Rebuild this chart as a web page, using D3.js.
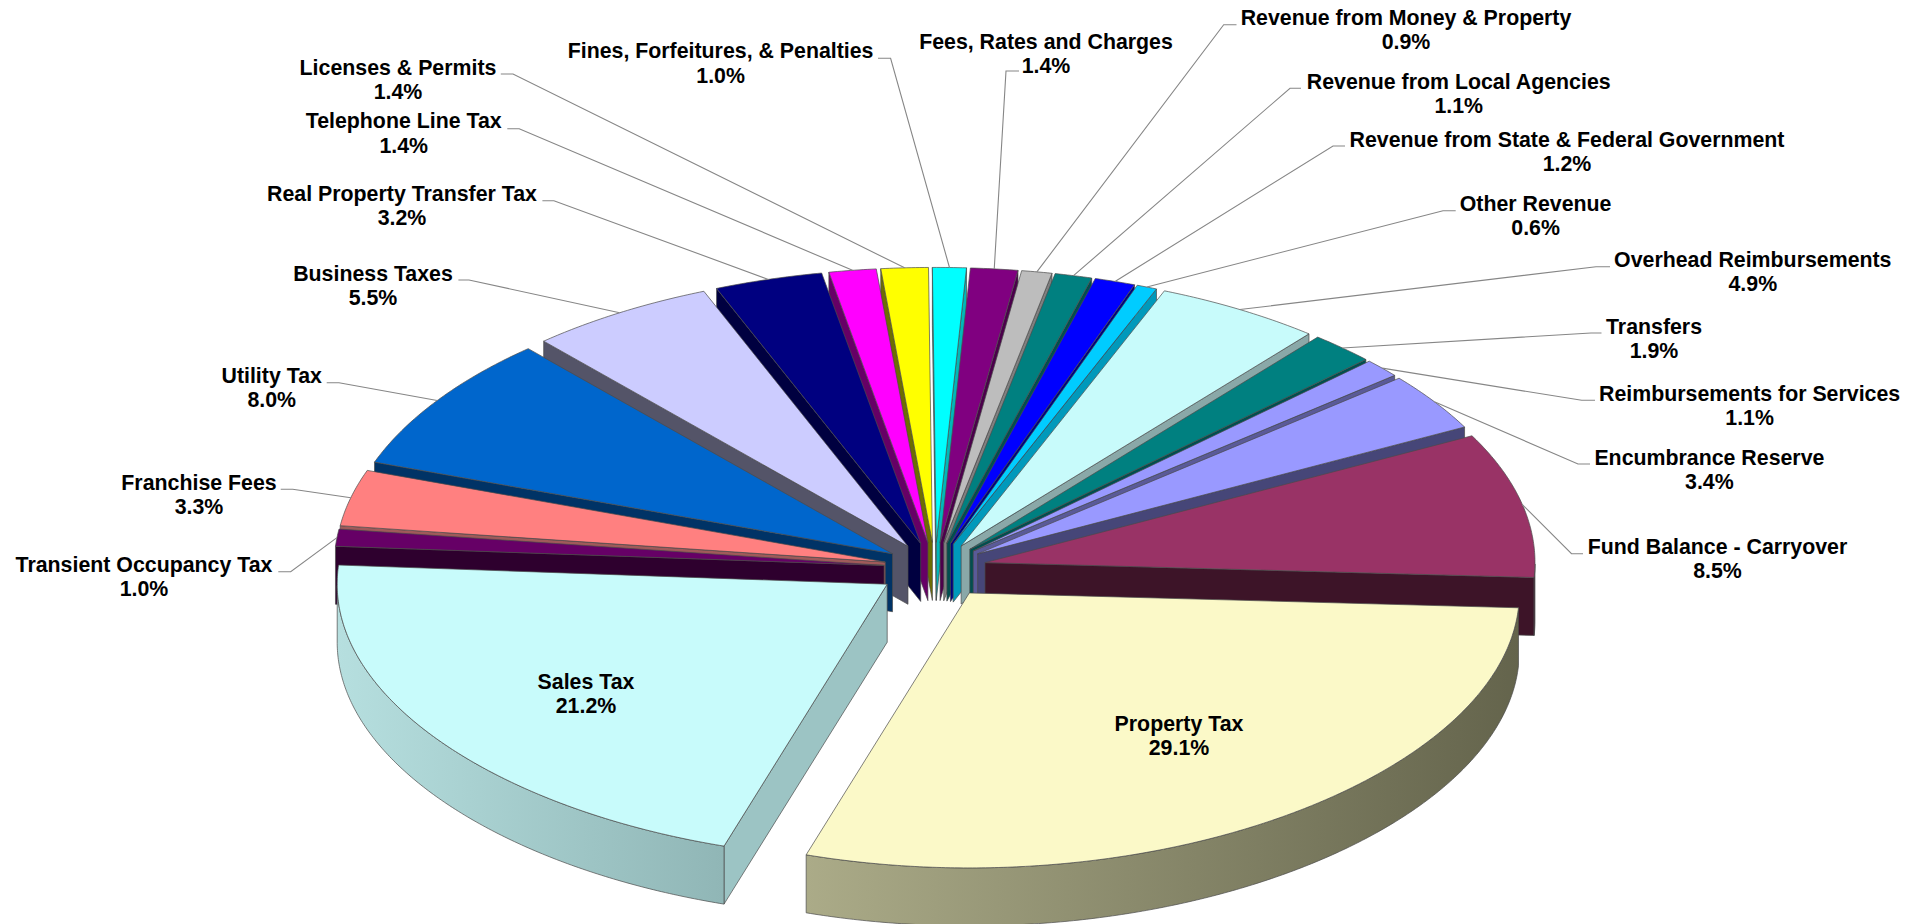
<!DOCTYPE html>
<html><head><meta charset="utf-8">
<script src="https://cdn.jsdelivr.net/npm/d3@7"></script>
<style>html,body{margin:0;padding:0;background:#fff;overflow:hidden}svg{display:block}
text{font-family:"Liberation Sans",Arial,sans-serif;font-weight:bold;font-size:21.33px;fill:#000}</style>
</head><body><svg id="c" width="1916" height="924"></svg>
<script>
const categories=["Property Tax","Sales Tax","Transient Occupancy Tax","Franchise Fees","Utility Tax","Business Taxes","Real Property Transfer Tax","Telephone Line Tax","Licenses & Permits","Fines, Forfeitures, & Penalties","Fees, Rates and Charges","Revenue from Money & Property","Revenue from Local Agencies","Revenue from State & Federal Government","Other Revenue","Overhead Reimbursements","Transfers","Reimbursements for Services","Encumbrance Reserve","Fund Balance - Carryover"];
const shares=[29.1,21.2,1.0,3.3,8.0,5.5,3.2,1.4,1.4,1.0,1.4,0.9,1.1,1.2,0.6,4.9,1.9,1.1,3.4,8.5];
const explode=[.11,.105,.093,.093,.093,.093,.093,.093,.093,.093,.093,.093,.093,.093,.093,.093,.093,.093,.093,.093];
const topColors=["#fbf9c8","#c8fbfb","#660066","#ff8080","#0066cc","#ccccff","#000080","#ff00ff","#ffff00","#00ffff","#800080","#bdbdbd","#008080","#0000ff","#00ccff","#c8fbfb","#008080","#9999ff","#9999ff","#993366"];
const wallColors=["#6a6a50","#9cc4c4","#2e002e","#a05a5a","#003366","#545468","#000040","#660066","#6e6e00","#00b8b8","#4c004c","#808080","#004f4f","#000080","#0099bb","#8aa8a8","#004f4f","#5a5a98","#464678","#3d1428"];
// label centre x, first-line baseline y
const labelX=[1179,586,144,199,271.7,373,402,403.7,398,720.6,1046,1406,1458.7,1567,1535.6,1752.8,1654,1749.6,1709.4,1717.5];
const labelY=[731,689,572,490,383,280.7,200.7,128.3,75,58.3,49,25,89,146.7,210.7,266.7,334,401,465,554];
// leader stub start x, elbow x, stub y
const stubX=[null,null,278.3,280.7,326.7,458.4,542.4,507.3,500.8,878,1019,1236.5,1301,1345,1455.7,1610,1601.5,1595,1590,1583];
const elbowX=[null,null,290.7,292.7,339,469,553.9,519.2,513,890.6,1006,1223.7,1290,1333,1443,1596,1591,1581.7,1578,1571.5];
const stubY=[null,null,571.7,489.3,382.7,280,200.7,128.7,74,58.3,71,24.7,88.3,146,210.7,266.7,333,400.3,464,553.7];
const startDeg=93.1, depth=58, lineGap=24.3;
const xs=d3.scaleLinear([-1,1],[935-550,935+550]);
const ys=d3.scaleLinear([-1,1],[568-275,568+275]);
const svg=d3.select("#c");
const defs=svg.append("defs");
const pie=d3.pie().value(d=>d).sort(null).startAngle(startDeg*Math.PI/180).endAngle((startDeg+360)*Math.PI/180);
const arcs=pie(shares);
const line=d3.line();
const slices=arcs.map((a,i)=>{
  const p0=a.startAngle-Math.PI/2,p1=a.endAngle-Math.PI/2,m=(p0+p1)/2;
  const ou=explode[i]*Math.cos(m),ov=explode[i]*Math.sin(m);
  const pt=t=>{const u=Math.cos(t),v=Math.sin(t),k=v>0?.03:.01;return [xs(ou+u*(1-k*v*v)),ys(ov+v)];};
  return {i,p0,p1,m,pt,apex:[xs(ou),ys(ov)]};
});
const down=p=>[p[0],p[1]+depth];
const stroke="#4a4a4a",sw=.7;
const rimGrad={0:["#abab88","#64644c"],1:["#b6dfdf","#90b6b6"]};
const order=slices.slice().sort((a,b)=>Math.sin(a.m)-Math.sin(b.m));
const g=svg.append("g");
const wall=(pts,fill)=>g.append("path").attr("d",line(pts)+"Z").attr("fill",fill).attr("stroke",stroke).attr("stroke-width",sw);
order.forEach(s=>{
  const {i,p0,p1,pt,apex}=s;
  const n=Math.max(4,Math.ceil((p1-p0)*120));
  const ts=d3.range(n+1).map(k=>p0+(p1-p0)*k/n);
  const rim=ts.map(pt);
  if(Math.cos(p0)<0){const e=pt(p0);wall([apex,e,down(e),down(apex)],wallColors[i]);}
  if(Math.cos(p1)>0){const e=pt(p1);wall([apex,e,down(e),down(apex)],wallColors[i]);}
  const vis=ts.filter(t=>Math.sin(t)>=0);
  if(vis.length>1){
    const r=vis.map(pt);
    let fill=wallColors[i];
    if(rimGrad[i]){
      const xe=d3.extent(r,d=>d[0]),id="g"+i;
      const lgr=defs.append("linearGradient").attr("id",id).attr("gradientUnits","userSpaceOnUse")
        .attr("x1",xe[0]).attr("x2",xe[1]).attr("y1",0).attr("y2",0);
      lgr.append("stop").attr("offset",0).attr("stop-color",rimGrad[i][0]);
      lgr.append("stop").attr("offset",1).attr("stop-color",rimGrad[i][1]);
      fill=`url(#${id})`;
    }
    wall(r.concat(r.map(down).reverse()),fill);
  }
  wall([apex,...rim],topColors[i]);
});
const lg=svg.append("g").attr("fill","none").attr("stroke","#868686").attr("stroke-width",1.1);
slices.forEach(s=>{
  if(stubX[s.i]==null) return;
  lg.append("path").attr("d",line([[stubX[s.i],stubY[s.i]],[elbowX[s.i],stubY[s.i]],s.pt(s.m)]));
});
const tg=svg.append("g").attr("text-anchor","middle");
categories.forEach((c,i)=>{
  tg.append("text").attr("x",labelX[i]).attr("y",labelY[i]).text(c);
  tg.append("text").attr("x",labelX[i]).attr("y",labelY[i]+lineGap).text(d3.format(".1f")(shares[i])+"%");
});
</script></body></html>
